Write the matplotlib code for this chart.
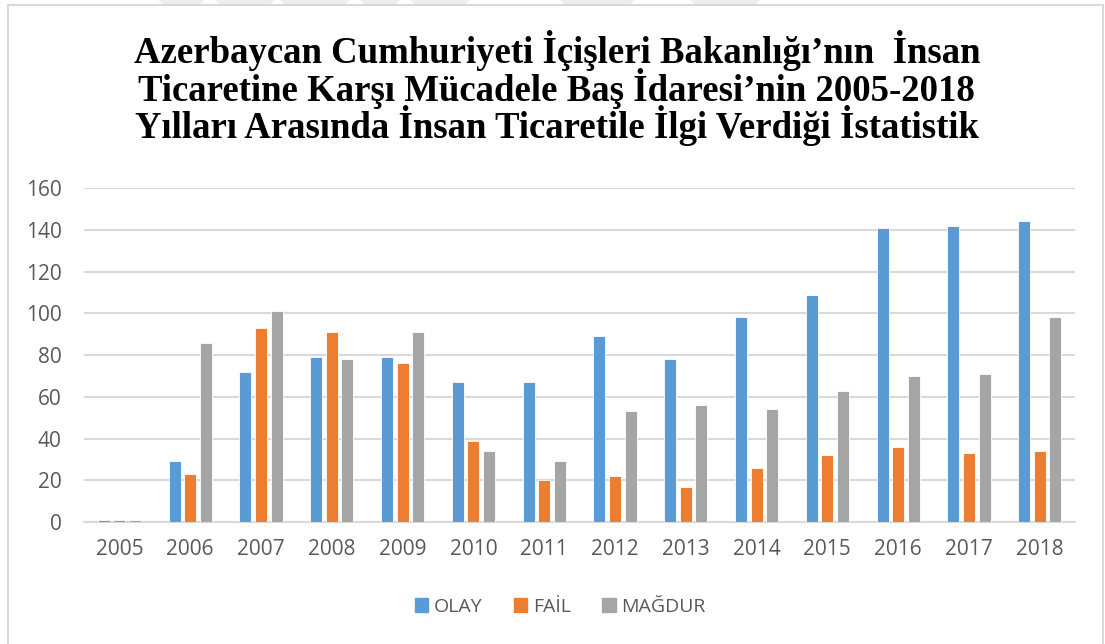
import numpy as np
import matplotlib.pyplot as plt
from matplotlib.patches import Rectangle, Polygon
from matplotlib.lines import Line2D

# Data
years = ['2005', '2006', '2007', '2008', '2009', '2010', '2011',
         '2012', '2013', '2014', '2015', '2016', '2017', '2018']
olay = [1, 29, 72, 79, 79, 67, 67, 89, 78, 98, 109, 141, 142, 144]
fail = [1, 23, 93, 91, 76, 39, 20, 22, 17, 26, 32, 36, 33, 34]
magdur = [1, 86, 101, 78, 91, 34, 29, 53, 56, 54, 63, 70, 71, 98]
series_names = ['OLAY', 'FAİL', 'MAĞDUR']
colors = ['#5b9bd5', '#ed7d31', '#a5a5a5']

title = ("Azerbaycan Cumhuriyeti İçişleri Bakanlığı’nın  İnsan\n"
         "Ticaretine Karşı Mücadele Baş İdaresi’nin 2005-2018\n"
         "Yılları Arasında İnsan Ticaretile İlgi Verdiği İstatistik")

W, H = 1105, 644
fig = plt.figure(figsize=(W / 100, H / 100), dpi=100)
ax = fig.add_axes([0.076, 0.1894, 0.897, 0.5186])

x = np.arange(len(years))
w = 0.17
step = 0.22
for i, vals in enumerate([olay, fail, magdur]):
    ax.bar(x + (i - 1) * step, vals, width=w, color=colors[i],
           edgecolor='white', linewidth=0.6, label=series_names[i], zorder=3)

ax.set_xlim(-0.5, len(years) - 0.5)
ax.set_ylim(0, 160)
ax.set_yticks(range(0, 161, 20))
ax.set_xticks(x)
ax.set_xticklabels(years)
ax.grid(axis='y', color='#d9d9d9', linewidth=1.5, zorder=0)
for s in ['top', 'right', 'left']:
    ax.spines[s].set_visible(False)
ax.spines['bottom'].set_color('#d9d9d9')
ax.spines['bottom'].set_linewidth(1.5)
ax.tick_params(length=0, labelsize=15, colors='#595959')
ax.tick_params(axis='x', pad=12)
ax.tick_params(axis='y', pad=16)
for lab in ax.get_xticklabels() + ax.get_yticklabels():
    lab.set_family('Open Sans')

fig.text(0.504, 0.863, title, ha='center', va='center', fontsize=26.5,
         fontweight='bold', family='Liberation Serif', linespacing=0.9)

handles = [Rectangle((0, 0), 1, 1, color=c) for c in colors]
leg = fig.legend(handles, series_names, loc='center', bbox_to_anchor=(0.507, 0.058),
                 ncol=3, frameon=False, handlelength=0.7, handleheight=0.7,
                 handletextpad=0.3, columnspacing=1.6,
                 prop={'family': 'Open Sans', 'size': 14})
for t in leg.get_texts():
    t.set_color('#595959')

# faint watermark shapes along the top edge (scan artefact)
for x0, x1 in [(158, 205), (215, 275), (280, 350), (360, 400), (410, 470),
               (560, 635), (690, 760)]:
    fig.add_artist(Polygon([(x0 / W, 1.0), (x1 / W, 1.0),
                            ((x1 - 6) / W, 1 - 5 / H), ((x0 + 6) / W, 1 - 5 / H)],
                           closed=True, transform=fig.transFigure,
                           facecolor='#eeeeee', edgecolor='none'))

# chart border (open at the bottom, as in the source)
for xs, ys in [([0.0075, 0.0075], [0.0, 0.992]),
               ([0.0075, 0.9985], [0.992, 0.992]),
               ([0.9985, 0.9985], [0.0, 0.992])]:
    fig.add_artist(Line2D(xs, ys, transform=fig.transFigure,
                          color='#d9d9d9', linewidth=1.5))

fig.savefig('out.png', dpi=100)
